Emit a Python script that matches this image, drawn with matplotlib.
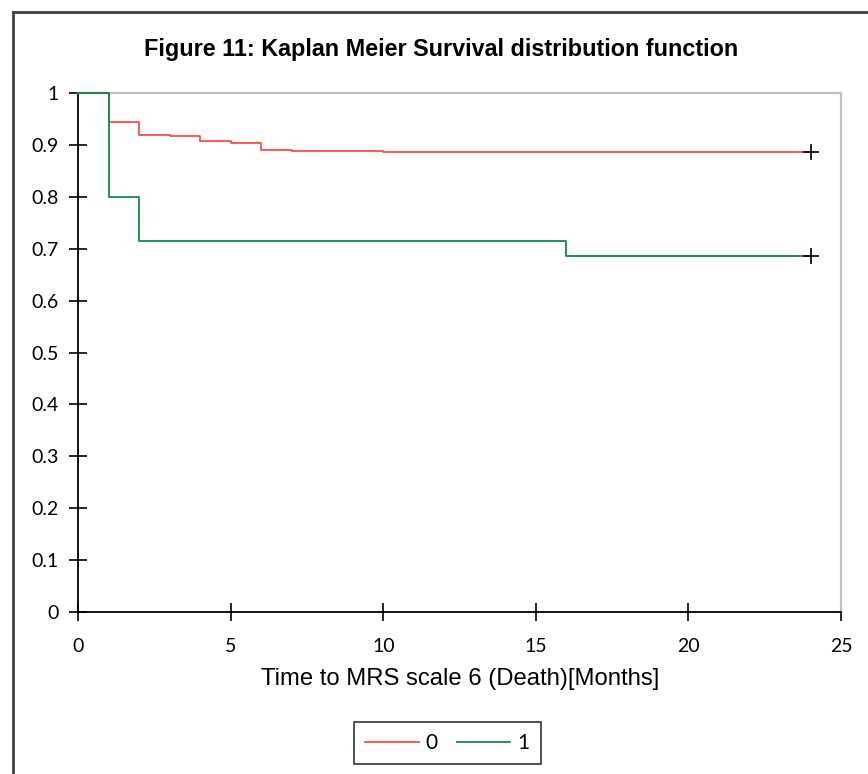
import matplotlib
matplotlib.use("Agg")
import matplotlib.pyplot as plt
from matplotlib.lines import Line2D

plt.rcParams['font.family'] = ['Liberation Sans', 'DejaVu Sans']

# Kaplan Meier steps
t_group0 = [0, 1, 2, 3, 4, 5, 6, 7, 10, 24]
s_group0 = [1.0, 0.943, 0.919, 0.917, 0.907, 0.903, 0.889, 0.8875, 0.885, 0.885]
t_group1 = [0, 1, 2, 16, 24]
s_group1 = [1.0, 0.8, 0.714, 0.686, 0.686]
# censored points at the end of follow-up
t_censor = [24, 24]
s_censor = [0.885, 0.686]

x_ticks = [0, 5, 10, 15, 20, 25]
y_ticks = [0, 0.1, 0.2, 0.3, 0.4, 0.5, 0.6, 0.7, 0.8, 0.9, 1.0]
y_ticklabels = ["0", "0.1", "0.2", "0.3", "0.4", "0.5", "0.6", "0.7", "0.8", "0.9", "1"]

fig = plt.figure(figsize=(8.68, 7.74), dpi=100)
ax = fig.add_axes([0.0904, 0.2089, 0.8785, 0.6713])

ax.plot(t_group0, s_group0, drawstyle='steps-post', color='#ff3c3c', lw=1.2, label='0',
        clip_on=False, zorder=4)
ax.plot(t_group1, s_group1, drawstyle='steps-post', color='#0f8a45', lw=1.3, label='1',
        clip_on=False, zorder=5)
ax.plot(t_censor, s_censor, linestyle='none', marker='+', ms=12, mew=1.2, color='black',
        clip_on=False, zorder=6)

ax.set_xlim(0, 25)
ax.set_ylim(0, 1)
ax.set_xticks(x_ticks)
ax.set_yticks(y_ticks)
ax.set_yticklabels(y_ticklabels)
ax.tick_params(direction='inout', length=13, width=1.2, labelsize=14, colors='black')
ax.tick_params(axis='x', pad=12)
ax.tick_params(axis='y', pad=8)
for lab in ax.get_xticklabels() + ax.get_yticklabels():
    lab.set_family(['Lato', 'DejaVu Sans'])

for side in ['left', 'bottom']:
    ax.spines[side].set_color('black')
    ax.spines[side].set_linewidth(1.3)
for side in ['top', 'right']:
    ax.spines[side].set_color('#c0c0c0')
    ax.spines[side].set_linewidth(1.6)

ax.set_xlabel("Time to MRS scale 6 (Death)[Months]", fontsize=17.2, labelpad=9)

fig.text(0.508, 0.936, "Figure 11: Kaplan Meier Survival distribution function",
         ha='center', va='center', fontsize=16.8, fontweight='bold')

leg = fig.legend(loc='center', bbox_to_anchor=(0.5154, 0.04), ncol=2,
                 prop={'family': ['Lato', 'DejaVu Sans'], 'size': 15},
                 handlelength=2.55, handletextpad=0.35, columnspacing=0.9,
                 frameon=True, fancybox=False, borderpad=0.55)
leg.get_frame().set_edgecolor('black')
leg.get_frame().set_linewidth(1.2)

# outer chart border (left and top only visible)
fig.add_artist(Line2D([13 / 868, 13 / 868], [0, 1 - 11.5 / 774], color='#404040', lw=2,
                      transform=fig.transFigure))
fig.add_artist(Line2D([13 / 868, 1], [1 - 11.5 / 774, 1 - 11.5 / 774], color='#404040', lw=2,
                      transform=fig.transFigure))

fig.savefig("out.png", dpi=100)
